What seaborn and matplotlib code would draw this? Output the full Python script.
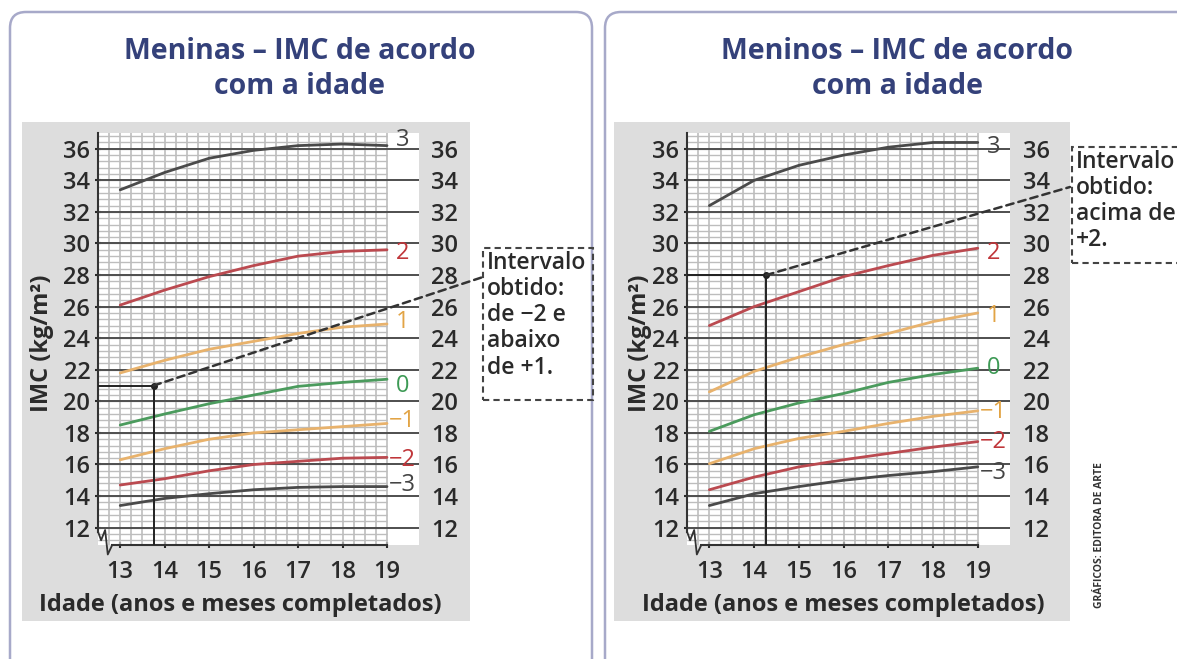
import numpy as np
import pandas as pd
import matplotlib.pyplot as plt
import seaborn as sns
from matplotlib.patches import Rectangle, FancyBboxPatch, ConnectionPatch

W, H = 1177, 659

idades = [13, 14, 15, 16, 17, 18, 19]
curvas = ["3", "2", "1", "0", "-1", "-2", "-3"]
rotulos = ["3", "2", "1", "0", "\u22121", "\u22122", "\u22123"]

# meninas - IMC (escore z) por idade
meninas_p3 = [33.4, 34.5, 35.4, 35.9, 36.2, 36.3, 36.2]
meninas_p2 = [26.1, 27.05, 27.9, 28.6, 29.2, 29.5, 29.6]
meninas_p1 = [21.8, 22.6, 23.3, 23.8, 24.3, 24.7, 24.9]
meninas_0 = [18.5, 19.2, 19.85, 20.4, 20.95, 21.2, 21.4]
meninas_m1 = [16.3, 17.0, 17.6, 18.0, 18.2, 18.4, 18.6]
meninas_m2 = [14.7, 15.1, 15.6, 16.0, 16.2, 16.4, 16.45]
meninas_m3 = [13.4, 13.85, 14.15, 14.4, 14.55, 14.6, 14.6]

# meninos
meninos_p3 = [32.4, 34.0, 34.95, 35.6, 36.1, 36.4, 36.4]
meninos_p2 = [24.8, 26.0, 26.95, 27.9, 28.6, 29.25, 29.7]
meninos_p1 = [20.6, 21.9, 22.8, 23.6, 24.3, 25.05, 25.6]
meninos_0 = [18.1, 19.15, 19.9, 20.5, 21.2, 21.7, 22.1]
meninos_m1 = [16.05, 17.0, 17.65, 18.1, 18.6, 19.05, 19.4]
meninos_m2 = [14.4, 15.2, 15.85, 16.3, 16.7, 17.1, 17.45]
meninos_m3 = [13.4, 14.15, 14.6, 15.0, 15.3, 15.55, 15.85]

# pontos marcados
meninas_ponto = (13.75, 21.0)
meninos_ponto = (14.27, 28.0)

titulos = ["Meninas \u2013 IMC de acordo\ncom a idade", "Meninos \u2013 IMC de acordo\ncom a idade"]
caixa_textos = ["Intervalo\nobtido:\nde \u22122 e\nabaixo\nde +1.", "Intervalo\nobtido:\nacima de\n+2."]


def long_df(series):
    rows = []
    for c, vals in zip(curvas, series):
        for x, y in zip(idades, vals):
            rows.append({"idade": x, "imc": y, "curva": c})
    return pd.DataFrame(rows)


df_meninas = long_df([meninas_p3, meninas_p2, meninas_p1, meninas_0, meninas_m1, meninas_m2, meninas_m3])
df_meninos = long_df([meninos_p3, meninos_p2, meninos_p1, meninos_0, meninos_m1, meninos_m2, meninos_m3])

sns.set_theme(style="white")
plt.rcParams["font.family"] = ["Open Sans", "DejaVu Sans"]

BLACK = "#4a4a4a"
RED = "#bb4a50"
ORANGE = "#e8b26c"
GREEN = "#4b9b5d"
INK = "#2a2a2a"
line_colors = {"3": BLACK, "2": RED, "1": ORANGE, "0": GREEN, "-1": ORANGE, "-2": RED, "-3": BLACK}
text_colors = {"3": "#444444", "2": "#c0363a", "1": "#e2a445", "0": "#3d9a55",
               "-1": "#e2a445", "-2": "#c0363a", "-3": "#444444"}
TITLE = "#34417a"

fig = plt.figure(figsize=(W / 100, H / 100), dpi=100)
fig.patch.set_facecolor("white")


def px_rect(x0, y0, x1, y1):
    return (x0 / 100, (H - y1) / 100), (x1 - x0) / 100, (y1 - y0) / 100


def fx(px):
    return px / W


def fy(py):
    return 1 - py / H


# frames and grey panels
for (x0, x1), (g0, g1) in [((10, 592), (22, 470)), ((605, 1195), (614, 1070))]:
    xy, w, h = px_rect(x0, 12, x1, 690)
    fig.add_artist(FancyBboxPatch(xy, w, h, boxstyle="round,pad=0,rounding_size=0.16",
                                  transform=fig.dpi_scale_trans, fc="white",
                                  ec="#a7a9c9", lw=1.8, zorder=-3))
    xy, w, h = px_rect(g0, 122, g1, 621)
    fig.add_artist(Rectangle(xy, w, h, transform=fig.dpi_scale_trans,
                             fc="#dddddd", ec="none", zorder=-2))

ax_left = fig.add_axes([fx(98), fy(545), fx(419) - fx(98), fy(133) - fy(545)])
ax_right = fig.add_axes([fx(687), fy(545), fx(1010) - fx(687), fy(133) - fy(545)])


def panel(ax, df, ponto, end_vals, label_offsets):
    ax.set_xlim(12.5, 19.72)
    ax.set_ylim(10.9, 37.0)
    ax.set_facecolor("white")
    for x in np.arange(12.75, 19.01, 0.25):
        ax.axvline(x, color="#bdbdbd", lw=1.2, zorder=1)
    for y in np.arange(11.2, 37.01, 0.4):
        ax.hlines(y, 12.5, 19.0, color="#bdbdbd", lw=1.0, zorder=1)
    for y in range(12, 37, 2):
        ax.axhline(y, color="#4e4e4e", lw=1.4, zorder=2)

    sns.lineplot(data=df, x="idade", y="imc", hue="curva", palette=line_colors,
                 hue_order=curvas, lw=2.0, legend=False, ax=ax, zorder=3)

    px, py = ponto
    ax.plot([px, px], [10.9, py], color="#222222", lw=1.4, zorder=4)
    ax.plot([12.5, px], [py, py], color="#222222", lw=1.4, zorder=4)
    ax.scatter([px], [py], s=16, color="#222222", zorder=5)

    for c, lab, v, off in zip(curvas, rotulos, end_vals, label_offsets):
        ax.text(19.05 if lab.startswith("\u2212") else 19.2, v + off, lab,
                color=text_colors[c], fontsize=17, ha="left", va="center", zorder=6)

    ax.set_xlabel("")
    ax.set_ylabel("")
    ax.set_xticks(idades)
    ax.set_yticks(range(12, 37, 2))
    ax.tick_params(axis="both", labelsize=17, length=5, width=1.5, colors=INK,
                   direction="inout", left=True, bottom=True)
    ax.tick_params(axis="x", pad=8)
    ax.tick_params(axis="y", pad=3)
    for lab in ax.get_xticklabels() + ax.get_yticklabels():
        lab.set_fontweight("semibold")
    for s in ["top", "right"]:
        ax.spines[s].set_visible(False)
    for s in ["left", "bottom"]:
        ax.spines[s].set_color("#333333")
        ax.spines[s].set_linewidth(1.5)
    ax.spines["left"].set_bounds(11.75, 37.0)
    ax.spines["bottom"].set_bounds(12.82, 19.0)
    # axis break
    ax.plot([12.5, 12.57, 12.66, 12.72, 12.82], [11.75, 11.2, 11.85, 10.3, 10.9],
            color="#333333", lw=1.3, clip_on=False, zorder=6)

    ax2 = ax.twinx()
    ax2.set_ylim(10.9, 37.0)
    ax2.set_yticks(range(12, 37, 2))
    ax2.tick_params(axis="y", length=0, pad=9, labelsize=17, colors=INK)
    for lab in ax2.get_yticklabels():
        lab.set_fontweight("semibold")
    for s in ax2.spines.values():
        s.set_visible(False)
    ax2.grid(False)
    return ax


panel(ax_left, df_meninas, meninas_ponto,
      [v[-1] for v in [meninas_p3, meninas_p2, meninas_p1, meninas_0, meninas_m1, meninas_m2, meninas_m3]],
      [0.35, -0.2, 0.1, -0.4, 0.15, -0.15, 0.1])
panel(ax_right, df_meninos, meninos_ponto,
      [v[-1] for v in [meninos_p3, meninos_p2, meninos_p1, meninos_0, meninos_m1, meninos_m2, meninos_m3]],
      [-0.3, -0.3, -0.2, 0.0, -0.1, 0.0, -0.4])

# titles
for xc, t in zip([300, 897], titulos):
    fig.text(fx(xc), fy(69), t, ha="center", va="center", fontsize=20.5,
             fontweight="bold", color=TITLE, linespacing=1.3)

# axis labels
for xc, yl in [(240, 42), (843, 640)]:
    fig.text(fx(xc), fy(605), "Idade (anos e meses completados)", ha="center", va="center",
             fontsize=17, fontweight="bold", color=INK)
    fig.text(fx(yl), fy(343), "IMC (kg/m\u00b2)", ha="center", va="center", rotation=90,
             fontsize=17, fontweight="bold", color=INK)

# dashed callout boxes
for (x0, y0, x1, y1), txt, ax, ponto, (ex, ey) in [
        ((483, 248, 593, 400), caixa_textos[0], ax_left, meninas_ponto, (483, 277)),
        ((1072, 147, 1200, 263), caixa_textos[1], ax_right, meninos_ponto, (1070, 187))]:
    xy, w, h = px_rect(x0, y0, x1, y1)
    fig.add_artist(Rectangle(xy, w, h, transform=fig.dpi_scale_trans, fc="none",
                             ec="#444444", lw=1.5, ls=(0, (3, 2)), zorder=10))
    fig.text(fx(x0 + 4), fy(y0 + 3), txt, ha="left", va="top", fontsize=16.5,
             fontweight="semibold", color=INK, linespacing=1.12, zorder=11)
    fig.add_artist(ConnectionPatch(xyA=ponto, coordsA=ax.transData,
                                   xyB=(fx(ex), fy(ey)), coordsB=fig.transFigure,
                                   color="#333333", lw=1.8, ls=(0, (3, 2)), zorder=12))

fig.text(fx(1100), fy(535), "GRÁFICOS: EDITORA DE ARTE", rotation=90, ha="center",
         va="center", fontsize=7.5, fontweight="bold", color="#333333")

plt.savefig("out.png", dpi=100)
